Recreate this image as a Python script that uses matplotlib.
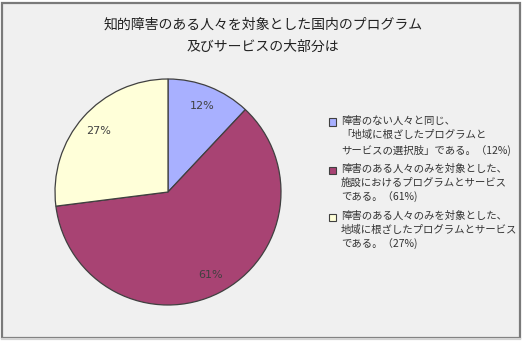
import matplotlib
matplotlib.use('Agg')
import matplotlib.pyplot as plt
from matplotlib.patches import Rectangle
from matplotlib.lines import Line2D

plt.rcParams['font.family'] = ['Noto Sans CJK JP', 'DejaVu Sans']

title = '知的障害のある人々を対象とした国内のプログラム\n及びサービスの大部分は'
shares = [12, 61, 27]
colors = ['#a8b0ff', '#a84373', '#ffffd9']
labels = [
    '障害のない人々と同じ、\n「地域に根ざしたプログラムと\nサービスの選択肢」である。（12%)',
    '障害のある人々のみを対象とした、\n施設におけるプログラムとサービス\nである。（61%)',
    '障害のある人々のみを対象とした、\n地域に根ざしたプログラムとサービス\nである。（27%)',
]

W, H = 526, 344
fig = plt.figure(figsize=(W / 100, H / 100), dpi=100)
fig.patch.set_facecolor('white')

# panel frame (behind the axes)
fig.patches.append(Rectangle((1.5 / W, 1 - 338 / H), 518.5 / W, 335 / H,
                             transform=fig.transFigure, facecolor='#f0f0f0',
                             edgecolor='#7a7a7a', lw=1.6, zorder=-2))
fig.lines.append(Line2D([1.5 / W, 520 / W], [1 - 338.5 / H, 1 - 338.5 / H],
                        transform=fig.transFigure, color='#d4d4d4', lw=1.6, zorder=-1))

fig.text(263 / W, 1 - 36 / H, title, ha='center', va='center', fontsize=10,
         color='#222222', linespacing=1.75)

# pie
ax = fig.add_axes([55 / W, 1 - 305 / H, 226 / W, 226 / H])
wedges, texts, autotexts = ax.pie(
    shares, colors=colors, startangle=90, counterclock=False,
    autopct='%d%%', pctdistance=0.82,
    wedgeprops=dict(edgecolor='#404040', linewidth=0.9),
    textprops=dict(fontsize=8, color='#404040', family='DejaVu Sans'))
ax.set_aspect('equal')
ax.set_xlim(-1.0, 1.0)
ax.set_ylim(-1.0, 1.0)
ax.axis('off')

# legend, drawn by hand so the box sits on the first line
tops = [122, 170, 217]
for lab, col, y in zip(labels, colors, tops):
    fig.patches.append(Rectangle((329 / W, 1 - (y + 3.5) / H), 7 / W, 7 / H,
                                 transform=fig.transFigure, facecolor=col,
                                 edgecolor='#404040', lw=0.8))
    fig.text(341 / W, 1 - (y - 6) / H, lab, ha='left', va='top', fontsize=7.5,
             color='#333333', linespacing=1.47)

fig.savefig('out.png', dpi=100)
